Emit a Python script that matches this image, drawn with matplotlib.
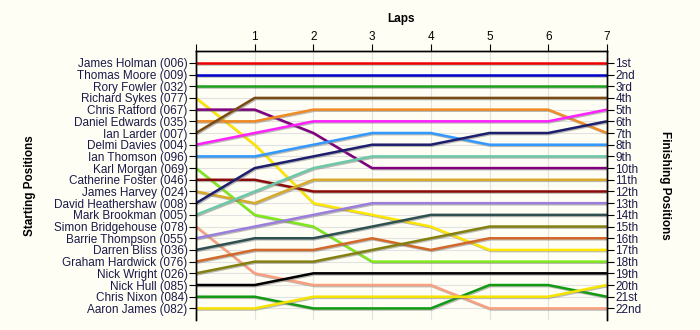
import matplotlib
matplotlib.use('Agg')
import matplotlib.pyplot as plt
import matplotlib.patheffects as pe

# drivers in starting order
drivers = ['James Holman (006)', 'Thomas Moore (009)', 'Rory Fowler (032)',
           'Richard Sykes (077)', 'Chris Ratford (067)', 'Daniel Edwards (035)',
           'Ian Larder (007)', 'Delmi Davies (004)', 'Ian Thomson (096)',
           'Karl Morgan (069)', 'Catherine Foster (046)', 'James Harvey (024)',
           'David Heathershaw (008)', 'Mark Brookman (005)', 'Simon Bridgehouse (078)',
           'Barrie Thompson (055)', 'Darren Bliss (036)', 'Graham Hardwick (076)',
           'Nick Wright (026)', 'Nick Hull (085)', 'Chris Nixon (084)', 'Aaron James (082)']

# position at lap 0..7 for each driver
positions = [
    [1, 1, 1, 1, 1, 1, 1, 1],
    [2, 2, 2, 2, 2, 2, 2, 2],
    [3, 3, 3, 3, 3, 3, 3, 3],
    [4, 8, 13, 14, 15, 17, 17, 17],
    [5, 5, 7, 10, 10, 10, 10, 10],
    [6, 6, 5, 5, 5, 5, 5, 7],
    [7, 4, 4, 4, 4, 4, 4, 4],
    [8, 7, 6, 6, 6, 6, 6, 5],
    [9, 9, 8, 7, 7, 8, 8, 8],
    [10, 14, 15, 18, 18, 18, 18, 18],
    [11, 11, 12, 12, 12, 12, 12, 12],
    [12, 13, 11, 11, 11, 11, 11, 11],
    [13, 10, 9, 8, 8, 7, 7, 6],
    [14, 12, 10, 9, 9, 9, 9, 9],
    [15, 19, 20, 20, 20, 22, 22, 22],
    [16, 15, 14, 13, 13, 13, 13, 13],
    [17, 16, 16, 15, 14, 14, 14, 14],
    [18, 17, 17, 16, 17, 16, 16, 16],
    [19, 18, 18, 17, 16, 15, 15, 15],
    [20, 20, 19, 19, 19, 19, 19, 19],
    [21, 21, 22, 22, 22, 20, 20, 21],
    [22, 22, 21, 21, 21, 21, 21, 20],
]

colors = ['#EE0000', '#0000CC', '#1FA01F', '#FFE600', '#800080', '#F08A24',
          '#7A4A14', '#FF22FF', '#3399FF', '#7FE81A', '#8B0A0A', '#D9A92A',
          '#1E1E6E', '#6CC9A8', '#F9A080', '#9B7EDB', '#2F5050', '#D2692A',
          '#848010', '#000000', '#139A13', '#F7E300']

finish_labels = ['1st', '2nd', '3rd'] + ['%dth' % i for i in range(4, 21)] + ['21st', '22nd']
laps = list(range(8))

plt.rcParams['font.family'] = ['Liberation Sans', 'DejaVu Sans']

bg = '#FFFEF4'
fig = plt.figure(figsize=(7, 3.3), dpi=100, facecolor=bg)
ax = fig.add_axes([0.28, 0.03, 0.587, 0.815])
ax.set_facecolor(bg)

for i in range(len(drivers)):
    ax.plot(laps, positions[i], color=colors[i], lw=1.8, solid_capstyle='butt',
            path_effects=[pe.SimpleLineShadow(offset=(0.8, -0.8), shadow_color='#777777', alpha=0.5),
                          pe.Normal()])

ax.set_xlim(0, 7)
ax.set_ylim(23, 0)
ax.grid(True, color='#E2E2E2', lw=0.8)
ax.set_axisbelow(True)

ax.xaxis.tick_top()
ax.set_xticks(laps)
ax.set_xticklabels([''] + [str(l) for l in laps[1:]], fontsize=8.5)
ax.set_xlabel('Laps', fontsize=8.5, fontweight='bold')
ax.xaxis.set_label_position('top')
ax.xaxis.set_label_coords(0.5, 1.11)

ax.set_yticks(range(1, 23))
ax.set_yticklabels(drivers, fontsize=8.5, color='#1A1A4A')
ax.set_ylabel('Starting Positions', fontsize=8.5, fontweight='bold', va='center')
ax.yaxis.set_label_coords(-0.404, 0.5)
ax.tick_params(axis='both', length=5, width=0.8, pad=1)

ax2 = ax.twinx()
ax2.set_ylim(23, 0)
ax2.set_yticks(range(1, 23))
ax2.set_yticklabels(finish_labels, fontsize=8.5, color='#1A1A4A')
ax2.tick_params(axis='y', length=5, width=0.8, pad=1)
ax2.set_ylabel('Finishing Positions', fontsize=8.5, fontweight='bold', rotation=-90, va='center')
ax2.yaxis.set_label_coords(1.141, 0.5)

for a in (ax, ax2):
    a.spines['bottom'].set_visible(False)
    for s in ('left', 'right', 'top'):
        a.spines[s].set_linewidth(1.0)

fig.savefig('out.png', dpi=100, facecolor=bg)
